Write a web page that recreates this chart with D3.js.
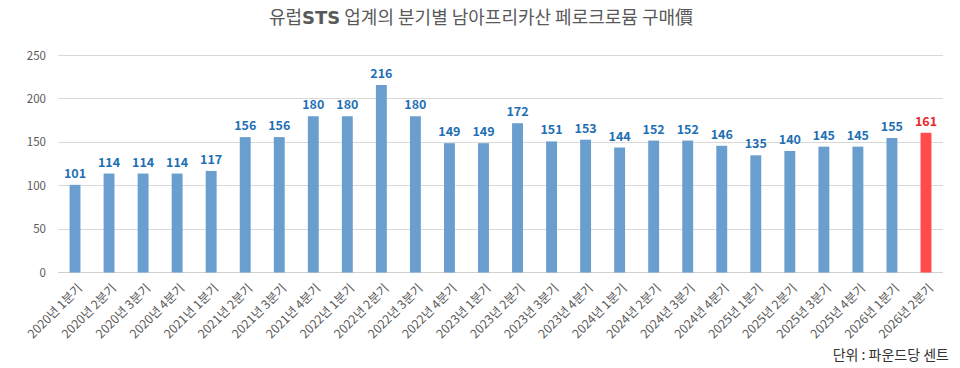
<!DOCTYPE html>
<html><head><meta charset="utf-8">
<script src="https://cdn.jsdelivr.net/npm/d3@7"></script>
<style>body{margin:0;background:#fff;font-family:"Noto Sans CJK KR","Noto Sans",sans-serif;}</style>
</head><body><svg id="c" width="960" height="368"></svg>
<script>
const categories = ["2020년 1분기","2020년 2분기","2020년 3분기","2020년 4분기","2021년 1분기","2021년 2분기","2021년 3분기","2021년 4분기","2022년 1분기","2022년 2분기","2022년 3분기","2022년 4분기","2023년 1분기","2023년 2분기","2023년 3분기","2023년 4분기","2024년 1분기","2024년 2분기","2024년 3분기","2024년 4분기","2025년 1분기","2025년 2분기","2025년 3분기","2025년 4분기","2026년 1분기","2026년 2분기"];
const values = [101,114,114,114,117,156,156,180,180,216,180,149,149,172,151,153,144,152,152,146,135,140,145,145,155,161];
const yTicks = [0,50,100,150,200,250];
const highlight = ["2026년 2분기"];

const svg = d3.select("#c");
const font = '"Noto Sans CJK KR","Noto Sans",sans-serif';
const x = d3.scaleBand().domain(categories).range([58,943]).paddingInner(0.68).paddingOuter(0.34);
const y = d3.scaleLinear().domain([0,250]).range([272.5,55.5]);

// gridlines
svg.append("g").selectAll("line").data(yTicks).join("line")
  .attr("x1",58).attr("x2",943).attr("y1",d=>y(d)).attr("y2",d=>y(d))
  .attr("stroke", d=> d===0 ? "#d0d0d0" : "#d9d9d9").attr("stroke-width",1).attr("shape-rendering","crispEdges");

// y axis labels
const yAxis = d3.axisLeft(y).tickValues(yTicks).tickSize(0).tickPadding(0);
const gy = svg.append("g").attr("transform","translate(46,0)").call(yAxis);
gy.select(".domain").remove();
gy.selectAll("text").attr("font-family",font).attr("font-size",11.5).attr("fill","#595959");

// bars
svg.append("g").selectAll("rect").data(categories).join("rect")
  .attr("x",d=>x(d)).attr("width",x.bandwidth())
  .attr("y",(d,i)=>y(values[i])).attr("height",(d,i)=>y(0)-y(values[i]))
  .attr("fill",d=>highlight.includes(d)?"#ff4b4b":"#6a9ecf");

// value labels
svg.append("g").selectAll("text").data(categories).join("text")
  .attr("x",d=>x(d)+x.bandwidth()/2).attr("y",(d,i)=>y(values[i])-7)
  .attr("text-anchor","middle").attr("font-family",font).attr("font-weight","bold").attr("font-size",12.5)
  .attr("fill",d=>highlight.includes(d)?"#e8262a":"#1f6fb5")
  .text((d,i)=>values[i]);

// x axis labels
const xAxis = d3.axisBottom(x).tickSize(0).tickPadding(0);
const gx = svg.append("g").attr("transform","translate(0,286)").call(xAxis);
gx.select(".domain").remove();
gx.selectAll("text").attr("font-family",font).attr("font-size",12.3).attr("fill","#595959")
  .attr("text-anchor","end").attr("dy","0.35em").attr("dx","0")
  .attr("transform","translate(5,0) rotate(-45)");

// title
const t = svg.append("text").attr("x",481).attr("y",24).attr("text-anchor","middle")
  .attr("font-family",font).attr("font-size",18).attr("fill","#595959");
t.append("tspan").text("유럽");
t.append("tspan").attr("font-weight","bold").attr("font-family","'DejaVu Sans',sans-serif").text("STS");
t.append("tspan").text(" 업계의 분기별 남아프리카산 페로크로뮴 구매價");

// unit
svg.append("text").attr("x",949).attr("y",360).attr("text-anchor","end")
  .attr("font-family",font).attr("font-size",14).attr("fill","#333").text("단위 : 파운드당 센트");
</script></body></html>
